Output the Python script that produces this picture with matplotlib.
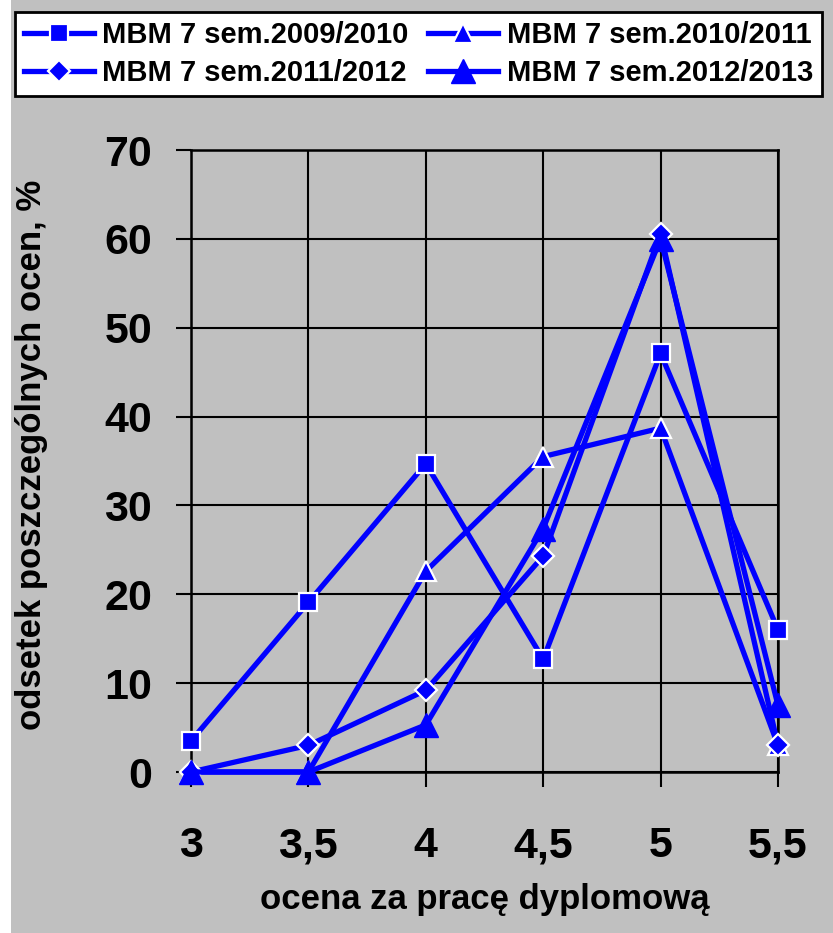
import matplotlib
matplotlib.use('Agg')
import matplotlib.pyplot as plt
from matplotlib.patches import Rectangle

plt.rcParams['font.family'] = ['Liberation Sans', 'DejaVu Sans']
plt.rcParams['font.weight'] = 'bold'

oceny = [3, 3.5, 4, 4.5, 5, 5.5]
tick_labels = ['3', '3,5', '4', '4,5', '5', '5,5']
y_ticks = [0, 10, 20, 30, 40, 50, 60, 70]

s2009 = [3.5, 19.1, 34.7, 12.7, 47.1, 16.0]
s2010 = [0.0, 0.0, 22.6, 35.5, 38.7, 3.0]
s2011 = [0.0, 3.0, 9.2, 24.3, 60.6, 3.0]
s2012 = [0.0, 0.0, 5.3, 27.4, 60.0, 7.5]

names = ['MBM 7 sem.2009/2010', 'MBM 7 sem.2010/2011',
         'MBM 7 sem.2011/2012', 'MBM 7 sem.2012/2013']

gray = '#C0C0C0'
blue = '#0000FF'

W, H = 833, 933
fig = plt.figure(figsize=(W/100, H/100), dpi=100, facecolor=gray)
# white strip on the left edge
fig.patches.append(Rectangle((0, 0), 11/W, 1, transform=fig.transFigure,
                             facecolor='white', edgecolor='none', zorder=-1))

ax = fig.add_axes([191/W, 1-772/H, (778-191)/W, (772-150)/H])
ax.set_facecolor(gray)

lw = 3.8
l1, = ax.plot(oceny, s2009, color=blue, lw=lw, marker='s', ms=13,
              mfc=blue, mec='white', mew=1.6, clip_on=False, zorder=3)
l2, = ax.plot(oceny, s2010, color=blue, lw=lw, marker='^', ms=14,
              mfc=blue, mec='white', mew=1.6, clip_on=False, zorder=3)
l3, = ax.plot(oceny, s2011, color=blue, lw=lw, marker='D', ms=11,
              mfc=blue, mec='white', mew=1.6, clip_on=False, zorder=3)
l4, = ax.plot(oceny, s2012, color=blue, lw=lw, marker='^', ms=17,
              mfc=blue, mec=blue, mew=1, clip_on=False, zorder=3)

ax.set_xlim(3, 5.5)
ax.set_ylim(0, 70)
ax.set_xticks(oceny)
ax.set_xticklabels(tick_labels)
ax.set_yticks(y_ticks)
ax.grid(True, color='black', lw=1.5)
ax.set_axisbelow(True)
for sp in ax.spines.values():
    sp.set_color('black')
    sp.set_linewidth(1.8)
ax.tick_params(axis='x', direction='out', length=11, width=1.5, pad=28,
               labelsize=31, colors='black')
ax.tick_params(axis='y', direction='out', length=11, width=1.5, pad=17,
               labelsize=31, colors='black')
for t in ax.get_xticklabels() + ax.get_yticklabels():
    t.set_fontweight('bold')

fig.text(485/W, 1-900/H, 'ocena za pracę dyplomową', ha='center', va='center',
         fontsize=25, fontweight='bold')
fig.text(32/W, 1-455/H, 'odsetek poszczególnych ocen, %', ha='center',
         va='center', rotation=90, fontsize=25, fontweight='bold')

# legend filled row by row, like the original
leg = fig.legend([l1, l3, l2, l4], [names[0], names[2], names[1], names[3]],
                 loc='upper left', ncol=2, mode='expand',
                 bbox_to_anchor=(15/W, 1-102/H, 807/W, 90/H),
                 prop={'size': 21, 'weight': 'bold'}, frameon=True,
                 fancybox=False, edgecolor='black', facecolor='white',
                 framealpha=1, handlelength=2.4, handletextpad=0.3,
                 columnspacing=0.6, borderpad=0.3, labelspacing=0.35,
                 borderaxespad=0)
leg.get_frame().set_linewidth(2)

fig.savefig('out.png', dpi=100, facecolor=fig.get_facecolor())
